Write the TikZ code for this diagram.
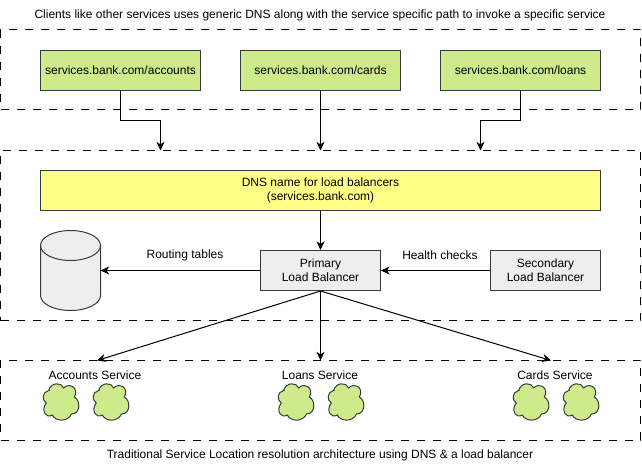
\documentclass[tikz,border=0pt]{standalone}
\usepackage{fontspec}
\setmainfont{Liberation Sans}
\usetikzlibrary{arrows.meta}
\definecolor{boxgreen}{HTML}{CDEB8B}
\definecolor{boxyellow}{HTML}{FFFF88}
\definecolor{boxgrey}{HTML}{EEEEEE}
\definecolor{edgegrey}{HTML}{36393D}
\tikzstyle{box}=[draw=edgegrey, line width=0.75pt, inner sep=0pt, align=center, font=\fontsize{9}{10.5}\selectfont]
\tikzstyle{zone}=[draw=black, line width=0.75pt, inner sep=0pt, dash pattern=on 6pt off 6pt, minimum width=480pt]
\tikzstyle{urlbox}=[box, fill=boxgreen, minimum width=120pt, minimum height=30pt]
\tikzstyle{lbbox}=[box, fill=boxgrey, minimum height=30pt]
\tikzstyle{outline}=[draw=edgegrey, line width=0.75pt]
\tikzstyle{caption}=[inner sep=0pt, font=\fontsize{9}{10.5}\selectfont]
\tikzstyle{link}=[draw=black, line width=0.75pt, -{Stealth[length=6.5pt,width=6pt,inset=2pt]}]
\tikzset{
    svccloud/.pic={
        \draw[outline, fill=boxgreen, xscale=0.92] (-13, -11.5)
            .. controls (-10, -20) and (1, -20) .. (3.5, -14)
            .. controls (9, -20) and (21, -14) .. (15, -5)
            .. controls (22, -2) and (22, 12) .. (12, 12)
            .. controls (8, 20) and (-5, 20) .. (-9, 13)
            .. controls (-15, 17) and (-22, 9) .. (-15.5, 1)
            .. controls (-20.5, -2) and (-20, -10) .. cycle;
    }
}

\begin{document}
\begin{tikzpicture}[x=0.75pt, y=-0.75pt]
    \useasboundingbox (0, 0) rectangle (642, 470);
    % dashed zones
    \node[zone, minimum height=60pt] (Top) at (320.5, 70) {};
    \node[zone, minimum height=127.5pt] (Mid) at (320.5, 235.5) {};
    \node[zone, minimum height=60pt] (Low) at (320.5, 400) {};
    % captions
    \node[caption] (Title) at (320, 15) {Clients like other services uses generic DNS along with the service specific path to invoke a specific service};
    \node[caption] (Foot) at (320, 455) {Traditional Service Location resolution architecture using DNS \& a load balancer};
    % urls
    \node[urlbox] (Accounts) at (120.5, 70.5) {services.bank.com/accounts};
    \node[urlbox] (Cards) at (320.5, 70.5) {services.bank.com/cards};
    \node[urlbox] (Loans) at (520.5, 70.5) {services.bank.com/loans};
    % dns and balancers
    \node[box, fill=boxyellow, minimum width=420pt, minimum height=30pt] (Dns) at (320.5, 190.5) {DNS name for load balancers\\(services.bank.com)};
    \node[lbbox, minimum width=90pt] (Primary) at (320.5, 270.5) {Primary\\Load Balancer};
    \node[lbbox, minimum width=82.5pt] (Secondary) at (545.5, 270.5) {Secondary\\Load Balancer};
    % routing table store
    \coordinate (Store) at (100.5, 270.5);
    \draw[outline, fill=boxgrey] (40.5, 245.5) arc[start angle=180, end angle=360, x radius=30, y radius=15]
        -- (100.5, 295.5) arc[start angle=0, end angle=180, x radius=30, y radius=15] -- cycle;
    \draw[outline] (40.5, 245.5) arc[start angle=180, end angle=0, x radius=30, y radius=15];
    \node[caption] (Routing) at (185, 255) {Routing tables};
    \node[caption] (Health) at (440, 255) {Health checks};
    % services
    \node[caption] (AccountsSvc) at (95, 375) {Accounts Service};
    \node[caption] (LoansSvc) at (320, 375) {Loans Service};
    \node[caption] (CardsSvc) at (555, 375) {Cards Service};
    \pic at (60.5, 402) {svccloud};
    \pic at (110.5, 402) {svccloud};
    \pic at (295.5, 402) {svccloud};
    \pic at (345.5, 402) {svccloud};
    \pic at (530.5, 402) {svccloud};
    \pic at (580.5, 402) {svccloud};
    % free ends on the zones
    \coordinate (InA) at (160.5, 150.5);
    \coordinate (InB) at (320.5, 150.5);
    \coordinate (InC) at (480.5, 150.5);
    \coordinate (OutA) at (97, 360.5);
    \coordinate (OutB) at (320.5, 360.5);
    \coordinate (OutC) at (551, 360.5);
    % connectors
    \draw[link] (Accounts.south) -- +(0, 30) -| (InA);
    \draw[link] (Cards.south) -- (InB);
    \draw[link] (Loans.south) -- +(0, 30) -| (InC);
    \draw[link] (Dns.south) -- (Primary.north);
    \draw[link] (Primary.west) -- (Store);
    \draw[link] (Secondary.west) -- (Primary.east);
    \draw[link] (Primary.south) -- (OutA);
    \draw[link] (Primary.south) -- (OutB);
    \draw[link] (Primary.south) -- (OutC);
\end{tikzpicture}
\end{document}
